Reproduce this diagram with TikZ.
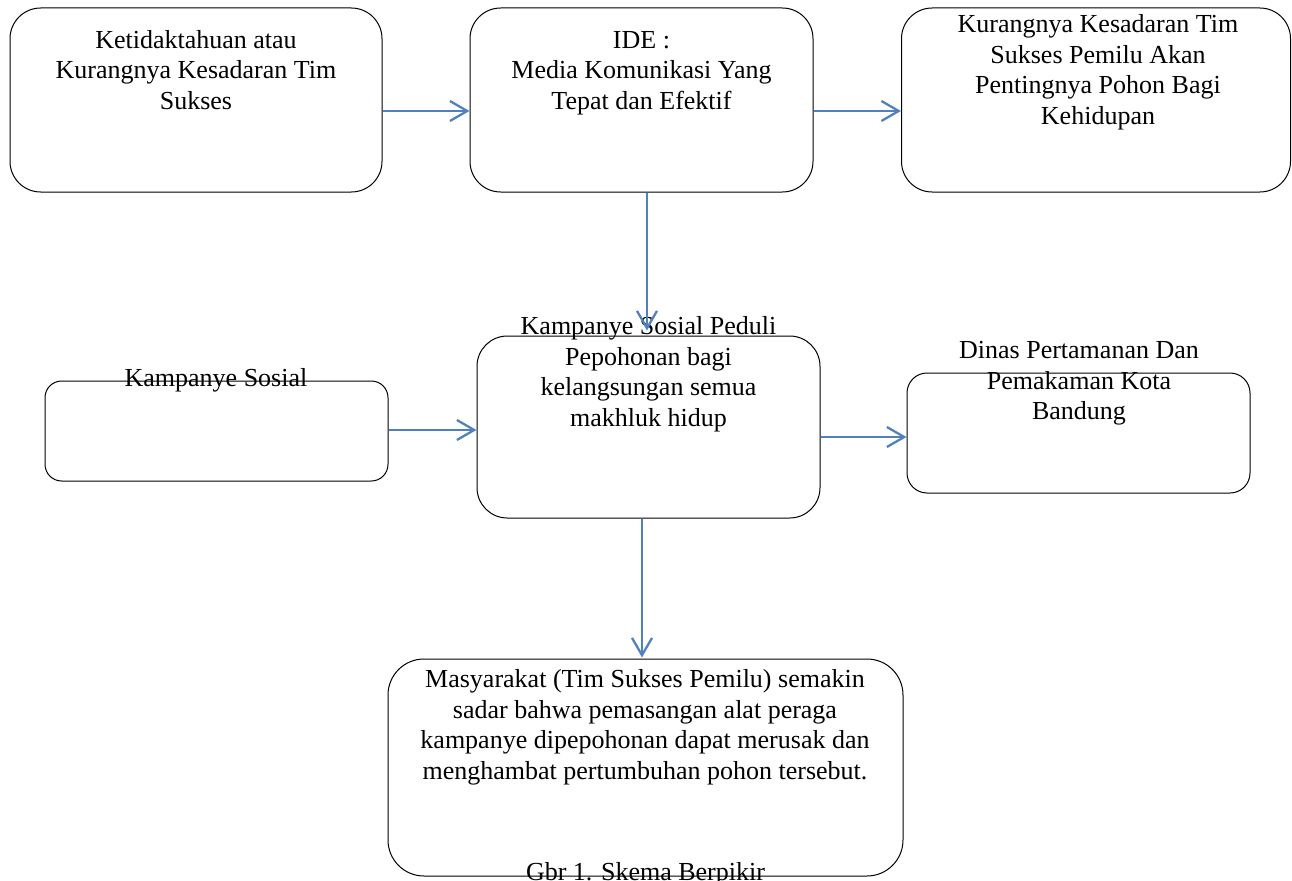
\documentclass[tikz,border=0pt]{standalone}
\usepackage{fontspec}
\setmainfont{Liberation Serif}
\usetikzlibrary{arrows.meta,calc}
\definecolor{arrowblue}{HTML}{4F81BD}
\begin{document}
\begin{tikzpicture}[x=0.75pt,y=-0.75pt,
  box/.style={draw=black,line width=0.75pt,inner sep=0pt,fill=none},
  txt/.style={anchor=north,inner sep=0pt,align=center,font=\fontsize{19.5}{22.9}\selectfont},
  conn/.style={draw=arrowblue,line width=1.7pt,-{Straight Barb[length=13pt,width=15pt,line width=1.7pt]}}]
\useasboundingbox (0,0) rectangle (1292,881);
% boxes
\node[box,rounded corners=23pt,minimum width=372*0.75pt,minimum height=184*0.75pt] (A) at (196,100) {};
\node[box,rounded corners=23pt,minimum width=343*0.75pt,minimum height=184*0.75pt] (B) at (641.5,100) {};
\node[box,rounded corners=23pt,minimum width=389*0.75pt,minimum height=184*0.75pt] (C) at (1096,100) {};
\node[box,rounded corners=12.5pt,minimum width=343*0.75pt,minimum height=100*0.75pt] (D) at (216.5,431) {};
\node[box,rounded corners=22.75pt,minimum width=343*0.75pt,minimum height=182*0.75pt] (E) at (648.5,427) {};
\node[box,rounded corners=15pt,minimum width=343*0.75pt,minimum height=120*0.75pt] (F) at (1078.5,433) {};
\node[box,rounded corners=27pt,minimum width=515*0.75pt,minimum height=217*0.75pt] (G) at (645.5,767.5) {};
% texts
\node[txt] (tA) at (196,26.6) {\strut Ketidaktahuan atau\\Kurangnya Kesadaran Tim\\Sukses};
\node[txt] (tB) at (641.5,26.6) {\strut IDE :\\Media Komunikasi Yang\\Tepat dan Efektif};
\node[txt] (tC) at (1098,11.1) {\strut Kurangnya Kesadaran Tim\\Sukses Pemilu Akan\\Pentingnya Pohon Bagi\\Kehidupan};
\node[txt] (tD) at (216,365.1) {\strut Kampanye Sosial};
\node[txt] (tE) at (648.5,313.1) {\strut Kampanye Sosial Peduli\\Pepohonan bagi\\kelangsungan semua\\makhluk hidup};
\node[txt] (tF) at (1079,337.1) {\strut Dinas Pertamanan Dan\\Pemakaman Kota\\Bandung};
\node[txt] (tG) at (645,666.1) {\strut Masyarakat (Tim Sukses Pemilu) semakin\\sadar bahwa pemasangan alat peraga\\kampanye dipepohonan dapat merusak dan\\menghambat pertumbuhan pohon tersebut.};
\node[txt] (cap) at (645.5,858.6) {\strut Gbr 1. Skema Berpikir};
% connectors
\draw[conn] ($(A.east)+(0,11)$) -- ($(B.west)+(0,11)$);
\draw[conn] ($(B.east)+(0,11)$) -- ($(C.west)+(0,11)$);
\draw[conn] ($(B.south)+(5.5,0)$) -- ($(E.north)+(-1.5,-5)$);
\draw[conn] ($(D.east)+(0,-1)$) -- ($(E.west)+(0,3)$);
\draw[conn] ($(E.east)+(0,10)$) -- ($(F.west)+(0,4)$);
\draw[conn] ($(E.south)+(-6.5,0)$) -- ($(G.north)+(-3.5,-1)$);
\end{tikzpicture}
\end{document}
